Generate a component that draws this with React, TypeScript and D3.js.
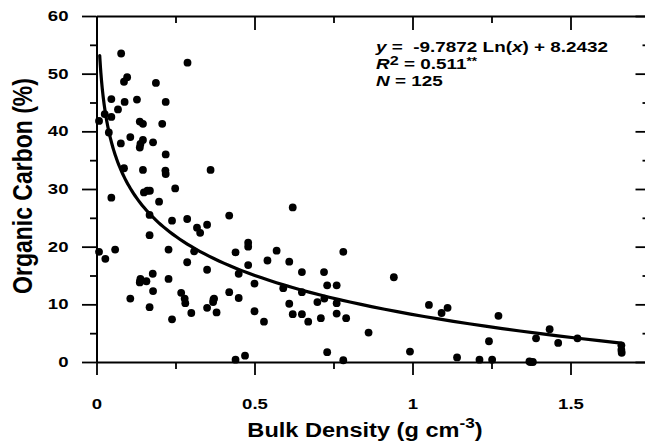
import React, { useEffect, useRef } from "react";
import * as d3 from "d3";

// values
const bulkDensity = [
  0.078, 0.288, 0.097, 0.087, 0.188, 0.047, 0.089, 0.128, 0.219, 0.068,
  0.008, 0.026, 0.047, 0.137, 0.147, 0.208, 0.039, 0.107, 0.077, 0.147,
  0.139, 0.137, 0.179, 0.219, 0.087, 0.147, 0.218, 0.219, 0.361, 0.15,
  0.161, 0.169, 0.249, 0.047, 0.198, 0.168, 0.239, 0.287, 0.318, 0.328,
  0.35, 0.168, 0.008, 0.028, 0.059, 0.228, 0.309, 0.287, 0.35, 0.178,
  0.139, 0.137, 0.158, 0.228, 0.179, 0.268, 0.279, 0.281, 0.107, 0.168,
  0.35, 0.3, 0.239, 0.372, 0.369, 0.38, 0.42, 0.621, 0.48, 0.48,
  0.44, 0.57, 0.781, 0.48, 0.45, 0.541, 0.61, 0.65, 0.72, 0.5,
  0.591, 0.65, 0.73, 0.76, 0.42, 0.45, 0.5, 0.53, 0.61, 0.621,
  0.65, 0.67, 0.699, 0.721, 0.71, 0.76, 0.76, 0.79, 0.73, 0.44,
  0.47, 0.781, 0.941, 0.861, 0.992, 1.052, 1.092, 1.111, 1.272, 1.242,
  1.141, 1.212, 1.252, 1.434, 1.391, 1.461, 1.522, 1.661, 1.661, 1.662,
  1.37, 1.381, 0.138, 1.373, 0.37,
];
const organicCarbon = [
  53.5, 51.9, 49.4, 48.6, 48.4, 45.6, 45.1, 45.5, 45.1, 43.8,
  41.8, 43.0, 42.5, 41.7, 41.3, 41.3, 39.8, 39.0, 37.9, 38.5,
  37.8, 37.2, 38.1, 36.0, 33.6, 33.3, 33.2, 32.6, 33.3, 29.4,
  29.7, 29.7, 30.1, 28.5, 27.8, 25.5, 24.5, 24.8, 23.3, 22.4,
  23.8, 22.0, 19.1, 17.9, 19.5, 19.5, 19.2, 17.3, 16.0, 15.3,
  14.4, 13.8, 14.0, 14.4, 12.3, 12.0, 11.0, 10.2, 11.0, 9.5,
  9.4, 8.5, 7.4, 11.0, 10.4, 8.6, 25.4, 26.8, 20.7, 20.0,
  19.0, 19.3, 19.1, 16.8, 15.3, 17.6, 17.4, 15.6, 15.6, 13.6,
  12.8, 12.1, 13.3, 13.3, 12.1, 11.1, 8.8, 7.0, 10.1, 8.3,
  8.3, 7.0, 10.4, 11.0, 7.6, 10.2, 8.4, 7.6, 1.7, 0.4,
  1.1, 0.3, 14.7, 5.1, 1.8, 9.9, 8.5, 9.4, 8.0, 3.6,
  0.8, 0.4, 0.4, 5.7, 4.1, 3.3, 4.1, 2.9, 2.1, 1.6,
  0.1, 0.0, 14.0, 0.0, 10.8,
];

const xMajorTicks = [0, 0.5, 1, 1.5];
const xMinorTicks = [0.25, 0.75, 1.25];
const yMajorTicks = [0, 10, 20, 30, 40, 50, 60];
const yMinorTicks = [5, 15, 25, 35, 45, 55];

// logarithmic fit shown on the chart
const fitSlope = -9.7872;
const fitIntercept = 8.2432;
const fitRange = [0.0102, 1.66];

const width = 645;
const height = 444;
const font = "'Liberation Sans', Arial, Helvetica, sans-serif";

const App = () => {
  const ref = useRef<SVGSVGElement>(null);

  useEffect(() => {
    const svg = d3.select(ref.current);
    svg.selectAll("*").remove();

    const x = d3.scaleLinear().domain([0, 1.75]).range([96.5, 649.5]);
    const y = d3.scaleLinear().domain([0, 60]).range([362, 16]);

    const styleAxis = (g: any) => {
      g.attr("font-family", font).attr("font-size", 14.5).attr("font-weight", "bold");
      g.select(".domain").attr("stroke", "#000").attr("stroke-width", 2);
      g.selectAll(".tick line").attr("stroke", "#000").attr("stroke-width", 1.8);
    };

    const addAxis = (axis: any, transform: string, keepDomain = true) => {
      const g = svg.append("g").attr("transform", transform).call(axis);
      styleAxis(g);
      if (!keepDomain) g.select(".domain").remove();
      return g;
    };

    // bottom
    const bottom = addAxis(
      d3.axisBottom(x).tickValues(xMajorTicks).tickSize(13).tickSizeOuter(0).tickFormat((d: any) => String(d)),
      `translate(0,${y(0)})`
    );
    bottom
      .selectAll("text")
      .attr("y", 0)
      .attr("dy", 0)
      .attr("transform", "translate(0,46.5) scale(1.28,1)");
    addAxis(
      d3.axisBottom(x).tickValues(xMinorTicks).tickSize(7).tickSizeOuter(0).tickFormat(() => ""),
      `translate(0,${y(0)})`,
      false
    );

    // top (ticks inward)
    addAxis(
      d3.axisBottom(x).tickValues(xMajorTicks).tickSize(14).tickSizeOuter(0).tickFormat(() => ""),
      `translate(0,${y(60)})`
    );
    addAxis(
      d3.axisBottom(x).tickValues(xMinorTicks).tickSize(7).tickSizeOuter(0).tickFormat(() => ""),
      `translate(0,${y(60)})`,
      false
    );

    // left
    const left = addAxis(
      d3.axisLeft(y).tickValues(yMajorTicks).tickSize(14.5).tickSizeOuter(0).tickFormat((d: any) => String(d)),
      `translate(${x(0)},0)`
    );
    left
      .selectAll("text")
      .attr("x", 0)
      .attr("transform", "translate(-28,0) scale(1.28,1)");
    addAxis(
      d3.axisLeft(y).tickValues(yMinorTicks).tickSize(6.5).tickSizeOuter(0).tickFormat(() => ""),
      `translate(${x(0)},0)`,
      false
    );

    // right (ticks inward)
    addAxis(
      d3.axisLeft(y).tickValues(yMajorTicks).tickSize(14).tickSizeOuter(0).tickFormat(() => ""),
      `translate(${x(1.75)},0)`
    );
    addAxis(
      d3.axisLeft(y).tickValues(yMinorTicks).tickSize(7).tickSizeOuter(0).tickFormat(() => ""),
      `translate(${x(1.75)},0)`,
      false
    );

    // points
    svg
      .append("g")
      .selectAll("circle")
      .data(bulkDensity.map((d, i) => [d, organicCarbon[i]]))
      .enter()
      .append("circle")
      .attr("cx", (d) => x(d[0]))
      .attr("cy", (d) => y(d[1]))
      .attr("r", 3.9)
      .attr("fill", "#000");

    // fitted curve
    const n = 120;
    const fitX = d3.range(n).map((i) => fitRange[0] * Math.pow(fitRange[1] / fitRange[0], i / (n - 1)));
    const line = d3
      .line<number>()
      .x((d) => x(d))
      .y((d) => y(fitSlope * Math.log(d) + fitIntercept));
    svg
      .append("path")
      .datum(fitX)
      .attr("d", line)
      .attr("fill", "none")
      .attr("stroke", "#000")
      .attr("stroke-width", 3.2)
      .attr("stroke-linecap", "round");

    // axis titles
    const xt = svg
      .append("text")
      .attr("transform", "translate(365,437) scale(1.15,1)")
      .attr("text-anchor", "middle")
      .attr("font-family", font)
      .attr("font-weight", "bold")
      .attr("font-size", 20.5);
    xt.append("tspan").text("Bulk Density (g cm");
    xt.append("tspan").attr("font-size", 15).attr("dy", -9).text("-3");
    xt.append("tspan").attr("dy", 9).text(")");

    svg
      .append("text")
      .attr("transform", "translate(32,186) rotate(-90) scale(1,1.2)")
      .attr("text-anchor", "middle")
      .attr("font-family", font)
      .attr("font-weight", "bold")
      .attr("font-size", 23)
      .text("Organic Carbon (%)");

    // equation block
    const eq = (ty: number) =>
      svg
        .append("text")
        .attr("transform", `translate(376,${ty}) scale(1.35,1)`)
        .attr("font-family", font)
        .attr("font-weight", "bold")
        .attr("font-size", 14)
        .style("white-space", "pre");

    const l1 = eq(52);
    l1.append("tspan").attr("font-style", "italic").text("y");
    l1.append("tspan").text(" =  -9.7872 Ln(");
    l1.append("tspan").attr("font-style", "italic").text("x");
    l1.append("tspan").text(") + 8.2432");

    const l2 = eq(69);
    l2.append("tspan").attr("font-style", "italic").text("R");
    l2.append("tspan").attr("font-size", 12).attr("dy", -4).text("2");
    l2.append("tspan").attr("dy", 4).text(" = 0.511");
    l2.append("tspan").attr("font-size", 10).attr("dy", -4).text("**");

    const l3 = eq(86);
    l3.append("tspan").attr("font-style", "italic").text("N");
    l3.append("tspan").text(" = 125");
  }, []);

  return (
    <svg
      ref={ref}
      width={width}
      height={height}
      style={{ position: "absolute", left: 0, top: 0, background: "#fff" }}
    ></svg>
  );
};

export default App;
